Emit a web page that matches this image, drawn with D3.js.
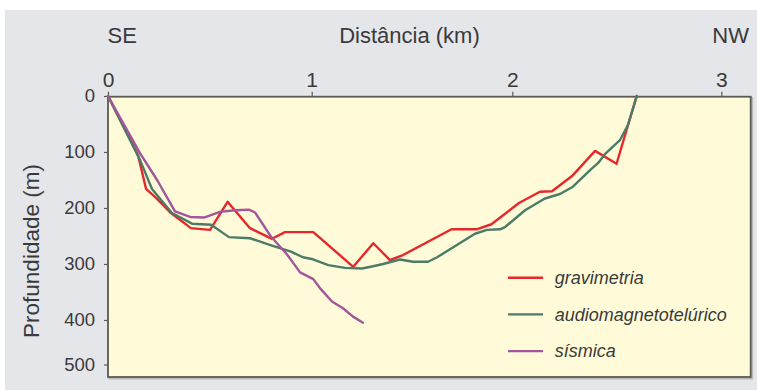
<!DOCTYPE html>
<html>
<head>
<meta charset="utf-8">
<script src="https://cdn.jsdelivr.net/npm/d3@7"></script>
<style>
  html, body { margin: 0; padding: 0; background: #ffffff; }
  svg { display: block; font-family: "Liberation Sans", Arial, sans-serif; }
</style>
</head>
<body>
<svg id="chart" width="757" height="390"></svg>
<script>
// Distance along the profile (km) and depth (m) for each method
const gravimetriaKm    = [0, 0.147, 0.187, 0.236, 0.309, 0.407, 0.501, 0.587, 0.697, 0.805, 0.869, 1.008, 1.207, 1.307, 1.390, 1.455, 1.697, 1.822, 1.896, 2.032, 2.132, 2.190, 2.286, 2.396, 2.499, 2.595];
const gravimetriaDepth = [0, 105, 166, 182, 209, 236, 239, 189, 236, 255, 243, 243, 305, 263, 293, 284, 238, 238, 229, 191, 171, 170, 143, 98, 121, 0];

const amtKm    = [0, 0.157, 0.216, 0.314, 0.412, 0.506, 0.594, 0.697, 0.805, 0.898, 0.957, 1.0, 1.083, 1.166, 1.251, 1.306, 1.356, 1.440, 1.505, 1.580, 1.625, 1.814, 1.874, 1.939, 1.964, 2.061, 2.156, 2.228, 2.290, 2.376, 2.410, 2.443, 2.515, 2.553, 2.596];
const amtDepth = [0, 114, 166, 209, 228, 230, 252, 254, 267, 278, 288, 291, 302, 307, 308, 304, 300, 292, 296, 296, 288, 246, 239, 238, 234, 204, 183, 175, 162, 131, 120, 104, 79, 52, 0];

const sismicaKm    = [0, 0.157, 0.241, 0.329, 0.403, 0.471, 0.550, 0.623, 0.692, 0.722, 0.800, 0.879, 0.943, 1.008, 1.041, 1.101, 1.156, 1.206, 1.256];
const sismicaDepth = [0, 102, 150, 206, 216, 217, 207, 204, 203, 208, 251, 283, 315, 327, 343, 367, 379, 394, 406];

const seriesNames  = ["gravimetria", "audiomagnetotelúrico", "sísmica"];
const seriesColors = ["#e5282b", "#4c7b69", "#a2569b"];

const xTicks = [0, 1, 2, 3];
const yTicks = [0, 100, 200, 300, 400, 500];

const series = [
  { name: seriesNames[0], color: seriesColors[0], km: gravimetriaKm, depth: gravimetriaDepth },
  { name: seriesNames[1], color: seriesColors[1], km: amtKm, depth: amtDepth },
  { name: seriesNames[2], color: seriesColors[2], km: sismicaKm, depth: sismicaDepth }
];

const svg = d3.select("#chart");
const textColor = "#3a3a3a";

// Plot frame
const plot = { left: 108, top: 96.7, right: 750.7, bottom: 377 };

// The printed axes are not perfectly even, so the scales follow the tick marks
const x = d3.scaleLinear().domain([0, 1, 2, 3]).range([108, 311.7, 512.3, 721.3]);
const y = d3.scaleLinear().domain([0, 400, 500]).range([96, 320, 364.5]);

// Page background
svg.append("rect")
  .attr("x", 5).attr("y", 10).attr("width", 752).attr("height", 380)
  .attr("fill", "#e5e6ea");

// Frame shadow and plot area
svg.append("rect")
  .attr("x", plot.left + 1.5).attr("y", plot.top + 1.5)
  .attr("width", plot.right - plot.left).attr("height", plot.bottom - plot.top)
  .attr("fill", "none").attr("stroke", "#b9b9b6").attr("stroke-width", 2);
svg.append("rect")
  .attr("x", plot.left).attr("y", plot.top)
  .attr("width", plot.right - plot.left).attr("height", plot.bottom - plot.top)
  .attr("fill", "#fffbd8").attr("stroke", "#5a5a54").attr("stroke-width", 1.8);

// Axes
const xAxis = svg.append("g")
  .attr("transform", `translate(0,${plot.top})`)
  .call(d3.axisTop(x).tickValues(xTicks).tickFormat(d3.format("d")).tickSize(5).tickPadding(5));
xAxis.select(".domain").remove();
xAxis.selectAll("line").attr("stroke", "#5a5a54").attr("stroke-width", 1.2);
xAxis.selectAll("text")
  .attr("fill", textColor).attr("font-size", 21)
  .attr("font-family", "Liberation Sans, Arial, sans-serif");

const yAxis = svg.append("g")
  .attr("transform", `translate(${plot.left},0)`)
  .call(d3.axisLeft(y).tickValues(yTicks).tickFormat(d3.format("d")).tickSize(4).tickPadding(9));
yAxis.select(".domain").remove();
yAxis.selectAll("line").attr("stroke", "#5a5a54").attr("stroke-width", 1.2);
yAxis.selectAll("text")
  .attr("fill", textColor).attr("font-size", 18.5)
  .attr("font-family", "Liberation Sans, Arial, sans-serif");

// Titles
svg.append("text")
  .attr("x", 409.5).attr("y", 43).attr("text-anchor", "middle")
  .attr("font-size", 22).attr("fill", textColor)
  .text("Distância (km)");
svg.append("text")
  .attr("x", 107.5).attr("y", 43).attr("text-anchor", "start")
  .attr("font-size", 22).attr("fill", textColor)
  .text("SE");
svg.append("text")
  .attr("x", 749).attr("y", 43).attr("text-anchor", "end")
  .attr("font-size", 22).attr("fill", textColor)
  .text("NW");
svg.append("text")
  .attr("transform", "translate(39,251) rotate(-90)")
  .attr("text-anchor", "middle")
  .attr("font-size", 22.5).attr("fill", textColor)
  .text("Profundidade (m)");

// Profiles
const line = d3.line()
  .x(d => x(d[0]))
  .y(d => y(d[1]));

svg.append("g").selectAll("path")
  .data(series)
  .join("path")
  .attr("d", s => line(s.km.map((k, i) => [k, s.depth[i]])))
  .attr("fill", "none")
  .attr("stroke", s => s.color)
  .attr("stroke-width", 2.4)
  .attr("stroke-linejoin", "round")
  .attr("stroke-linecap", "round");

// Legend
const legend = svg.append("g").attr("transform", "translate(508,277.7)");
const item = legend.selectAll("g")
  .data(series)
  .join("g")
  .attr("transform", (d, i) => `translate(0,${i * 36.7})`);
item.append("line")
  .attr("x1", 0).attr("x2", 35).attr("y1", 0).attr("y2", 0)
  .attr("stroke", d => d.color).attr("stroke-width", 2.4);
item.append("text")
  .attr("x", 46.7).attr("y", 6.3)
  .attr("font-size", 18).attr("font-style", "italic")
  .attr("fill", textColor)
  .text(d => d.name);
</script>
</body>
</html>
